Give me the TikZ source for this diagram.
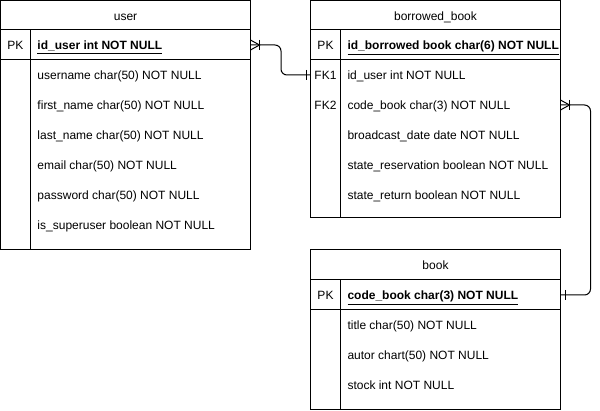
\documentclass[tikz,border=0pt]{standalone}
\usepackage{fontspec}
\setmainfont{Liberation Sans}
\usetikzlibrary{positioning}

\tikzset{
    crowfoot/.pic={
        \draw (0,-5) -- (9,0) -- (0,5);
        \draw (9,-5) -- (9,5);
    },
    onebar/.pic={
        \draw (0,-5) -- (0,5);
    },
}

\begin{document}
\begin{tikzpicture}[
        x=1pt, y=-1pt, line width=1pt,
        cell/.style={draw, minimum width=250pt, inner sep=0pt, outer sep=0pt},
        fld/.style={anchor=base west, inner sep=0pt, font=\fontsize{12}{14}\selectfont},
        tag/.style={anchor=base, inner sep=0pt, font=\fontsize{12}{14}\selectfont},
    ]
    \useasboundingbox (0,0) rectangle (600,411);

    % user
    \node[cell, minimum height=29pt] (usrhead) at (125.5,15.5) {};
    \node[cell, minimum height=30pt] (usrpk) at (125.5,45) {};
    \node[cell, minimum height=190pt] (usrbody) at (125.5,155) {};
    \draw ([xshift=30pt]usrpk.north west) -- ([xshift=30pt]usrbody.south west);
    \node[tag] (usrtitle) at (125.5,20.5) {user};
    \node[tag] (usrpklbl) at (15.5,50) {PK};
    \node[fld] (usrkey) at (37,50) {\textbf{\underline{id\_user int NOT NULL}}};
    \foreach \txt [count=\i] in {username char(50) NOT NULL, first\_name char(50) NOT NULL,
            last\_name char(50) NOT NULL, email char(50) NOT NULL,
            password char(50) NOT NULL, is\_superuser boolean NOT NULL}
        \node[fld] (usrf\i) at (37,50+30*\i) {\txt};

    % borrowed_book
    \node[cell, minimum height=29pt] (bbhead) at (435.5,15.5) {};
    \node[cell, minimum height=30pt] (bbpk) at (435.5,45) {};
    \node[cell, minimum height=158pt] (bbbody) at (435.5,139) {};
    \draw ([xshift=30pt]bbpk.north west) -- ([xshift=30pt]bbbody.south west);
    \node[tag] (bbtitle) at (435.5,20.5) {borrowed\_book};
    \node[tag] (bbpklbl) at (325.5,50) {PK};
    \node[fld] (bbkey) at (347,50) {\textbf{\underline{id\_borrowed book char(6) NOT NULL}}};
    \node[tag] (bbfk1lbl) at (325.5,80) {FK1};
    \node[tag] (bbfk2lbl) at (325.5,110) {FK2};
    \foreach \txt [count=\i] in {id\_user int NOT NULL, code\_book char(3) NOT NULL,
            broadcast\_date date NOT NULL, state\_reservation boolean NOT NULL,
            state\_return boolean NOT NULL}
        \node[fld] (bbf\i) at (347,50+30*\i) {\txt};
    \coordinate (bbfk1) at ([yshift=-15pt]bbbody.north west);
    \coordinate (bbfk2) at ([yshift=-45pt]bbbody.north east);

    % book
    \node[cell, minimum height=30pt] (bkhead) at (435.5,265) {};
    \node[cell, minimum height=30pt] (bkpk) at (435.5,295) {};
    \node[cell, minimum height=100pt] (bkbody) at (435.5,360) {};
    \draw ([xshift=30pt]bkpk.north west) -- ([xshift=30pt]bkbody.south west);
    \node[tag] (bktitle) at (435.5,270) {book};
    \node[tag] (bkpklbl) at (325.5,300) {PK};
    \node[fld] (bkkey) at (347,300) {\textbf{\underline{code\_book char(3) NOT NULL}}};
    \foreach \txt [count=\i] in {title char(50) NOT NULL, autor chart(50) NOT NULL,
            stock int NOT NULL}
        \node[fld] (bkf\i) at (347,300+30*\i) {\txt};

    % relations
    \draw[rounded corners=6pt] (usrpk.east) -- ++(30.5,0) |- (bbfk1);
    \pic at (usrpk.east) {crowfoot};
    \pic at ([xshift=-4pt]bbfk1) {onebar};

    \draw[rounded corners=6pt] (bbfk2) -- ++(30,0) |- (bkpk.east);
    \pic at (bbfk2) {crowfoot};
    \pic at ([xshift=5pt]bkpk.east) {onebar};
\end{tikzpicture}
\end{document}
